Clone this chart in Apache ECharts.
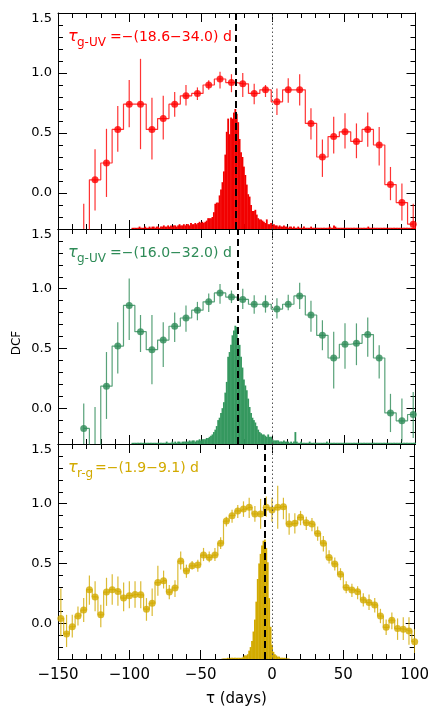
<!DOCTYPE html>
<html>
<head>
<meta charset="utf-8">
<script src="https://cdn.jsdelivr.net/npm/echarts@6/dist/echarts.min.js"></script>
<style>
  html, body { margin: 0; padding: 0; background: #fff; }
  #main { width: 432px; height: 709px; }
</style>
</head>
<body>
<div id="main"></div>
<script>
// lags of the 8-day DCF bins (panels 1 and 2)
var lags8 = [-132, -124.1, -116.1, -108.2, -100.2, -92.3, -84.3, -76.4, -68.4, -60.5,
  -52.5, -44.6, -36.7, -28.7, -20.8, -12.8, -4.9, 3.1, 11.0, 19.0,
  26.9, 34.9, 42.8, 50.7, 58.7, 66.6, 74.6, 82.5, 90.5, 98.4];

// panel 1: g vs UV (red)
var dcf1 = [-0.40, 0.11, 0.25, 0.53, 0.74, 0.74, 0.53, 0.62, 0.74, 0.81,
  0.83, 0.90, 0.95, 0.92, 0.91, 0.83, 0.86, 0.76, 0.86, 0.86,
  0.58, 0.30, 0.47, 0.51, 0.43, 0.53, 0.40, 0.07, -0.08, -0.26];
var dcf1Hi = [-0.09, 0.365, 0.535, 0.725, 0.942, 1.118, 0.794, 0.81, 0.842, 0.90,
  0.88, 0.94, 1.01, 0.99, 1.00, 0.91, 0.90, 0.87, 0.956, 0.99,
  0.706, 0.446, 0.636, 0.664, 0.58, 0.67, 0.55, 0.217, 0.08, -0.09];
var dcf1Lo = [-0.70, -0.145, -0.033, 0.343, 0.547, 0.365, 0.279, 0.446, 0.635, 0.73,
  0.775, 0.86, 0.87, 0.84, 0.80, 0.74, 0.80, 0.65, 0.753, 0.73,
  0.446, 0.134, 0.33, 0.371, 0.29, 0.385, 0.23, -0.06, -0.23, -0.35];

// panel 2: g vs UV (green)
var dcf2 = [-0.17, -0.40, 0.184, 0.52, 0.86, 0.64, 0.49, 0.57, 0.686, 0.755,
  0.82, 0.89, 0.965, 0.93, 0.91, 0.87, 0.87, 0.83, 0.87, 0.94,
  0.78, 0.61, 0.42, 0.535, 0.543, 0.616, 0.42, -0.04, -0.106, -0.053];
var dcf2Hi = [0.04, 0.01, 0.47, 0.72, 1.085, 0.78, 0.78, 0.72, 0.80, 0.86,
  0.89, 0.96, 1.04, 0.985, 1.00, 0.945, 0.945, 0.92, 0.95, 1.05,
  0.90, 0.736, 0.64, 0.71, 0.71, 0.76, 0.527, 0.12, 0.08, 0.136];
var dcf2Lo = [-0.38, -0.80, -0.09, 0.29, 0.57, 0.47, 0.20, 0.345, 0.554, 0.64,
  0.736, 0.805, 0.875, 0.88, 0.83, 0.79, 0.80, 0.75, 0.82, 0.83,
  0.64, 0.485, 0.165, 0.33, 0.36, 0.43, 0.248, -0.20, -0.28, -0.25];

// panel 3: r vs g (gold), 4-day bins
var lags4 = [-148, -144, -140, -136, -132, -128, -124, -120, -116, -112,
  -108, -104, -100, -96, -92, -88, -84, -80, -76, -72,
  -68, -64, -60, -56, -52, -48, -44, -40, -36, -32,
  -28, -24, -20, -16, -12, -8, -4, 0, 4, 8,
  12, 16, 20, 24, 28, 32, 36, 40, 44, 48,
  52, 56, 60, 64, 68, 72, 76, 80, 84, 88,
  92, 96, 100];
var dcf3 = [0.04, -0.09, -0.03, 0.06, 0.11, 0.28, 0.22, 0.07, 0.26, 0.28,
  0.265, 0.21, 0.23, 0.24, 0.237, 0.117, 0.167, 0.34, 0.356, 0.26,
  0.295, 0.52, 0.437, 0.48, 0.487, 0.57, 0.55, 0.57, 0.67, 0.855,
  0.90, 0.94, 0.955, 0.97, 0.914, 0.914, 0.97, 0.947, 0.97, 0.975,
  0.83, 0.836, 0.886, 0.84, 0.83, 0.75, 0.67, 0.55, 0.496, 0.41,
  0.298, 0.278, 0.264, 0.195, 0.172, 0.153, 0.06, -0.035, 0.025, -0.045,
  -0.05, -0.065, -0.155];
var dcf3Hi = [0.29, 0.07, 0.07, 0.14, 0.21, 0.40, 0.35, 0.155, 0.38, 0.41,
  0.39, 0.34, 0.35, 0.35, 0.35, 0.21, 0.29, 0.48, 0.44, 0.32,
  0.36, 0.60, 0.49, 0.52, 0.53, 0.63, 0.60, 0.63, 0.72, 0.89,
  0.95, 0.99, 1.02, 1.05, 0.98, 1.04, 1.06, 1.05, 1.15, 1.05,
  0.92, 0.92, 0.94, 0.89, 0.88, 0.81, 0.73, 0.61, 0.55, 0.46,
  0.35, 0.33, 0.31, 0.25, 0.24, 0.21, 0.12, 0.03, 0.09, 0.04,
  0.05, 0.05, -0.05];
var dcf3Lo = [-0.11, -0.20, -0.12, -0.02, 0.01, 0.155, 0.10, -0.035, 0.145, 0.155,
  0.145, 0.10, 0.125, 0.13, 0.125, 0.02, 0.06, 0.23, 0.29, 0.20,
  0.22, 0.45, 0.38, 0.45, 0.43, 0.52, 0.51, 0.52, 0.62, 0.81,
  0.84, 0.88, 0.89, 0.88, 0.85, 0.79, 0.89, 0.85, 0.79, 0.87,
  0.74, 0.75, 0.82, 0.78, 0.77, 0.69, 0.60, 0.50, 0.44, 0.36,
  0.25, 0.22, 0.20, 0.14, 0.11, 0.09, 0.00, -0.10, -0.05, -0.14,
  -0.14, -0.18, -0.25];

// centroid distributions, 1-day bins, heights in DCF units above the floor
var hist1Start = -100;
var hist1 = [
  0, 0, 0.01, 0.01, 0.01, 0.01, 0.01, 0.02, 0.01, 0.01,
  0.01, 0.02, 0.01, 0.01, 0.02, 0.01, 0.02, 0.02, 0.01, 0.02,
  0.02, 0.01, 0.02, 0.02, 0.03, 0.02, 0.02, 0.03, 0.02, 0.03,
  0.02, 0.03, 0.03, 0.02, 0.03, 0.04, 0.03, 0.03, 0.04, 0.03,
  0.04, 0.04, 0.03, 0.05, 0.04, 0.04, 0.05, 0.04, 0.05, 0.06,
  0.05, 0.06, 0.05,
  0.06, 0.07, 0.09, 0.09, 0.09, 0.10, 0.14, 0.21, 0.22, 0.22,
  0.28, 0.33, 0.39, 0.48, 0.62, 0.81, 0.92, 0.79, 0.93, 0.92,
  0.97, 1.00, 0.96, 0.89, 0.75, 0.64, 0.60, 0.52, 0.45, 0.37,
  0.29, 0.27, 0.20, 0.15, 0.15, 0.16, 0.12, 0.09, 0.08, 0.08,
  0.07, 0.06, 0.05, 0.08, 0.04, 0.04, 0.05, 0.03, 0.04, 0.03,
  0.03, 0.02, 0.03, 0.02, 0.02, 0.03, 0.02, 0.02, 0.01, 0.02,
  0.02, 0.01, 0.02, 0.01, 0.01, 0.02, 0.01, 0.01, 0.01, 0.02,
  0.01, 0.01, 0.01, 0.01, 0.02, 0.01, 0.01, 0.01, 0.01, 0.01,
  0.01, 0.01, 0.01, 0.01, 0.01, 0.01, 0.01, 0.02, 0.01, 0.01,
  0.03, 0.02, 0.01, 0.01, 0.01, 0.01, 0.01, 0.01, 0.01, 0.01,
  0.01, 0.01, 0.01, 0.01, 0.01, 0.01, 0.01, 0.01, 0.01, 0.01,
  0.01, 0.01, 0.01, 0.01, 0.02, 0.01, 0.01, 0.01, 0.01, 0.01,
  0.01, 0.01, 0.01, 0.01, 0.01, 0.01, 0.01, 0.01, 0.01, 0.01,
  0.01, 0.01, 0.01, 0.01, 0.01, 0.01, 0.01, 0.01, 0.01, 0.01,
  0.01, 0.01, 0.01, 0.01, 0.01, 0.01, 0.01, 0.02];
var hist2Start = -100;
var hist2 = [
  0, 0, 0.01, 0.01, 0.01, 0.01, 0.01, 0.01, 0.01, 0.01,
  0.01, 0.01, 0.01, 0.01, 0.01, 0.01, 0.01, 0.01, 0.01, 0.01,
  0.01, 0.01, 0.01, 0.01, 0.01, 0.01, 0.02, 0.01, 0.01, 0.01,
  0.02, 0.01, 0.02, 0.01, 0.02, 0.02, 0.01, 0.02, 0.02, 0.02,
  0.02, 0.02, 0.03, 0.02, 0.03, 0.03, 0.02, 0.03, 0.03, 0.04,
  0.03, 0.04, 0.04,
  0.04, 0.05, 0.05, 0.06, 0.07, 0.08, 0.10, 0.12, 0.15, 0.20,
  0.22, 0.26, 0.30, 0.35, 0.43, 0.52, 0.73, 0.77, 0.83, 0.91,
  0.95, 0.99, 0.98, 0.88, 0.83, 0.73, 0.64, 0.54, 0.49, 0.45,
  0.38, 0.31, 0.26, 0.22, 0.20, 0.18, 0.15, 0.12, 0.10, 0.09,
  0.08, 0.08, 0.07, 0.06, 0.08, 0.06, 0.06, 0.04, 0.03, 0.03,
  0.03, 0.03, 0.02, 0.02, 0.02, 0.03, 0.02, 0.02, 0.02, 0.01,
  0.02, 0.01, 0.02, 0.10, 0.02, 0.01, 0.01, 0.02, 0.01, 0.01,
  0.01, 0.01, 0.01, 0.02, 0.01, 0.01, 0.01, 0.01, 0.01, 0.01,
  0.01, 0.01, 0.01, 0.01, 0.01, 0.02, 0.01, 0.01, 0.01, 0.01,
  0.01, 0.01, 0.01, 0.01, 0.01, 0.01, 0.01, 0.01, 0.01, 0.01,
  0.01, 0.01, 0.01, 0.01, 0.01, 0.01, 0.01, 0.01, 0.01, 0.01,
  0.01, 0.01, 0.01, 0.01, 0.01, 0.01, 0.01, 0.01, 0.01, 0.01,
  0.01, 0.01, 0.01, 0.01, 0.01, 0.01, 0.01, 0.01, 0.01, 0.01,
  0.01, 0.01, 0.01, 0.01, 0.01, 0.01, 0.01, 0.01, 0.01, 0.01,
  0.01, 0.01, 0.01, 0.01, 0.01, 0.01, 0.01, 0.01];
var hist3Start = -35;
var hist3 = [
  0.003, 0.005, 0.005, 0.005, 0.01, 0.005, 0.01, 0.01, 0.01, 0.01,
  0.01, 0.01, 0.01,
  0.01, 0.01, 0.02, 0.03, 0.03, 0.04, 0.07, 0.10, 0.15, 0.23,
  0.33, 0.48, 0.67, 0.80, 0.88, 0.95, 0.99, 1.00, 0.93, 0.81,
  0.51, 0.27, 0.12, 0.06, 0.04, 0.03, 0.02, 0.02, 0.01, 0.01,
  0.01,
  0.01, 0.005, 0.005, 0.003];

// median lags (dashed lines)
var medians = [-26.0, -24.4, -5.3];
var colors = ['#ff0000', '#2e8b57', '#d2aa00'];
var histColors = ['#f20000', '#35985f', '#d2aa00'];
var labelSub = ['g-UV', 'g-UV', 'r-g'];
var labelMain = ['=\u2212(18.6\u221234.0) d', '=\u2212(16.0\u221232.0) d', '=\u2212(1.9\u22129.1) d'];

var xTicks = { min: -150, max: 100, interval: 50 };
var yMajor = [0, 0.5, 1.0, 1.5];
var yMin = -0.3, yMax = 1.5;

var panels = [
  { lags: lags8, dcf: dcf1, hi: dcf1Hi, lo: dcf1Lo, hist: hist1, histStart: hist1Start },
  { lags: lags8, dcf: dcf2, hi: dcf2Hi, lo: dcf2Lo, hist: hist2, histStart: hist2Start },
  { lags: lags4, dcf: dcf3, hi: dcf3Hi, lo: dcf3Lo, hist: hist3, histStart: hist3Start }
];

var chart = echarts.init(document.getElementById('main'));

var gridTops = [13, 229, 444];
var gridHeights = [216, 215, 215];
var font = 'DejaVu Sans';

var grids = [], xAxes = [], yAxes = [], series = [], graphics = [];

panels.forEach(function (p, i) {
  grids.push({ left: 58, width: 357.5, top: gridTops[i], height: gridHeights[i] });

  ['bottom', 'top'].forEach(function (pos) {
    xAxes.push({
      type: 'value', gridIndex: i, position: pos,
      min: xTicks.min, max: xTicks.max, interval: xTicks.interval,
      axisLine: { show: true, onZero: false, lineStyle: { color: '#000', width: 1 } },
      axisTick: { show: true, inside: true, length: 9, lineStyle: { color: '#000' } },
      minorTick: { show: true, splitNumber: 5, length: 5, lineStyle: { color: '#000' } },
      splitLine: { show: false },
      axisLabel: {
        show: pos === 'bottom' && i === 2, margin: 9,
        fontFamily: font, fontSize: 15, color: '#000',
        formatter: function (v) { return String(v).replace('-', '\u2212'); }
      },
      name: (pos === 'bottom' && i === 2) ? '\u03c4 (days)' : '',
      nameLocation: 'middle', nameGap: 33,
      nameTextStyle: { fontFamily: font, fontSize: 15, color: '#000' }
    });
  });

  ['left', 'right'].forEach(function (pos) {
    // major ticks + labels
    yAxes.push({
      type: 'value', gridIndex: i, position: pos, min: yMin, max: yMax,
      axisLine: { show: true, onZero: false, lineStyle: { color: '#000', width: 1 } },
      axisTick: { show: true, inside: true, length: 9, customValues: yMajor, lineStyle: { color: '#000' } },
      splitLine: { show: false },
      axisLabel: {
        show: pos === 'left', customValues: yMajor, margin: 6,
        fontFamily: font, fontSize: 13, color: '#000',
        formatter: function (v) { return v === 1.5 ? '{t|1.5}' : v.toFixed(1); },
        rich: { t: { fontFamily: font, fontSize: 13, color: '#000', padding: [11, 0, 0, 0] } }
      }
    });
    // minor ticks every 0.1
    yAxes.push({
      type: 'value', gridIndex: i, position: pos, min: yMin, max: yMax, interval: 0.1,
      axisLine: { show: false, onZero: false },
      axisTick: { show: true, inside: true, length: 5, lineStyle: { color: '#000' } },
      splitLine: { show: false },
      axisLabel: { show: false }
    });
  });

  var xi = 2 * i, yi = 4 * i;

  var histData = p.hist.map(function (h, k) { return [p.histStart + k, h]; });
  series.push({
    type: 'custom', xAxisIndex: xi, yAxisIndex: yi, clip: true, silent: true, z: 1,
    data: histData,
    renderItem: function (params, api) {
      var x = api.value(0), h = api.value(1);
      var a = api.coord([x - 0.5, yMin]);
      var b = api.coord([x + 0.5, yMin + h]);
      return {
        type: 'rect',
        shape: { x: a[0] - 0.2, y: b[1], width: b[0] - a[0] + 0.4, height: a[1] - b[1] },
        style: { fill: histColors[i] }
      };
    }
  });

  var errData = p.lags.map(function (x, k) { return [x, p.lo[k], p.hi[k]]; });
  series.push({
    type: 'custom', xAxisIndex: xi, yAxisIndex: yi, clip: true, silent: true, z: 2,
    data: errData,
    renderItem: function (params, api) {
      var a = api.coord([api.value(0), api.value(1)]);
      var b = api.coord([api.value(0), api.value(2)]);
      return {
        type: 'line',
        shape: { x1: a[0], y1: a[1], x2: b[0], y2: b[1] },
        style: { stroke: colors[i], lineWidth: 1.2, opacity: 0.8 }
      };
    }
  });

  var pts = p.lags.map(function (x, k) { return [x, p.dcf[k]]; });
  series.push({
    type: 'line', xAxisIndex: xi, yAxisIndex: yi, step: 'middle', data: pts,
    symbol: 'none', clip: true, silent: true, z: 3,
    lineStyle: { color: colors[i], width: 1.2, opacity: 0.8 },
    markLine: {
      silent: true, symbol: 'none', label: { show: false },
      data: [
        { xAxis: 0, lineStyle: { color: '#555', width: 1, type: [1.5, 2.5] } },
        { xAxis: medians[i], lineStyle: { color: '#000', width: 2, type: [7, 4] } }
      ]
    }
  });
  series.push({
    type: 'scatter', xAxisIndex: xi, yAxisIndex: yi, data: pts, clip: true,
    symbol: 'circle', symbolSize: 7, silent: true, z: 4,
    itemStyle: { color: colors[i] }
  });

  // panel label
  var cy = gridTops[i] + 24;
  graphics.push({ type: 'text', x: 68, y: cy, style: { text: '\u03c4', font: 'italic 16px ' + font, fill: colors[i], verticalAlign: 'middle' } });
  graphics.push({ type: 'text', x: 77, y: cy + 6, style: { text: labelSub[i], font: '12px ' + font, fill: colors[i], verticalAlign: 'middle' } });
  graphics.push({ type: 'text', x: i === 2 ? 95 : 110, y: cy, style: { text: labelMain[i], font: '14px ' + font, fill: colors[i], verticalAlign: 'middle' } });
});

graphics.push({
  type: 'text', x: 17, y: 343, rotation: Math.PI / 2,
  style: { text: 'DCF', font: '12px ' + font, fill: '#000', align: 'center', verticalAlign: 'middle' }
});

var option = {
  animation: false,
  backgroundColor: '#fff',
  grid: grids,
  xAxis: xAxes,
  yAxis: yAxes,
  series: series,
  graphic: graphics
};

chart.setOption(option);
</script>
</body>
</html>
